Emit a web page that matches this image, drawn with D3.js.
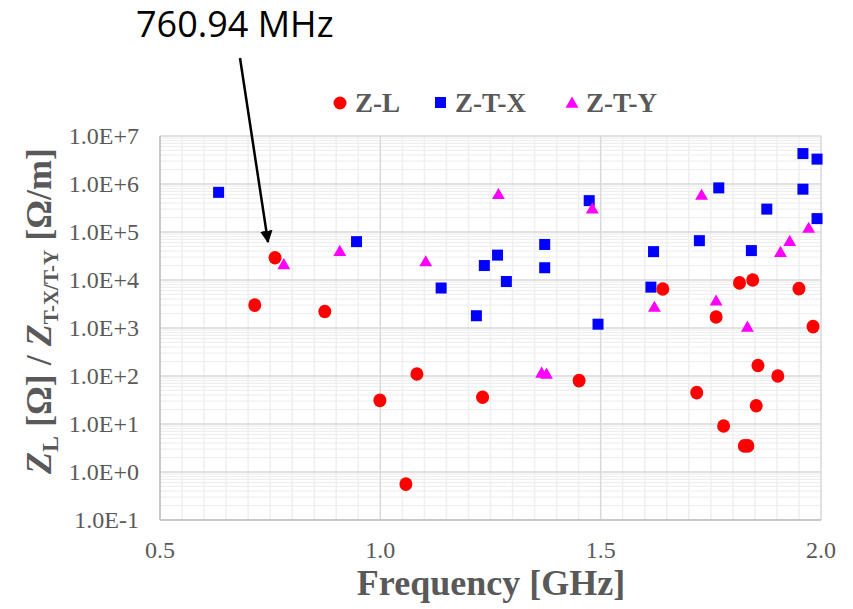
<!DOCTYPE html>
<html>
<head>
<meta charset="utf-8">
<script src="https://cdn.jsdelivr.net/npm/d3@7"></script>
<style>
  body { margin: 0; background: #fff; }
</style>
</head>
<body>
<div id="chart"></div>
<script>
// frequency [GHz] / impedance values
const zlFreq = [0.715, 0.761, 0.874, 0.999, 1.058, 1.083, 1.232, 1.451, 1.641, 1.718, 1.762,
                1.779, 1.815, 1.826, 1.834, 1.845, 1.853, 1.857, 1.902, 1.950, 1.982];
const zlVal  = [3.0e3, 2.9e4, 2.2e3, 31, 0.56, 110, 36, 80, 6.5e3, 45, 1.7e3,
                9.1, 8.7e3, 3.5, 3.5, 1.0e4, 24, 165, 100, 6.6e3, 1.07e3];

const ztxFreq = [0.633, 0.946, 1.138, 1.218, 1.236, 1.266, 1.286, 1.373, 1.373, 1.474, 1.494,
                 1.614, 1.620, 1.724, 1.768, 1.842, 1.877, 1.959, 1.959, 1.991, 1.991];
const ztxVal  = [6.7e5, 6.3e4, 6.8e3, 1.8e3, 2.0e4, 3.3e4, 9.3e3, 5.5e4, 1.8e4, 4.5e5, 1.2e3,
                 7.1e3, 3.9e4, 6.6e4, 8.3e5, 4.1e4, 3.0e5, 4.3e6, 7.8e5, 3.3e6, 1.9e5];

const ztyFreq = [0.781, 0.908, 1.103, 1.268, 1.366, 1.377, 1.481, 1.622, 1.729, 1.762, 1.833,
                 1.908, 1.929, 1.972];
const ztyVal  = [2.0e4, 3.8e4, 2.3e4, 5.8e5, 110, 105, 2.9e5, 2.6e3, 5.6e5, 3.5e3, 1.0e3,
                 3.6e4, 6.1e4, 1.15e5];

const xTicks = [0.5, 1.0, 1.5, 2.0];
const yTicks = [1e-1, 1e0, 1e1, 1e2, 1e3, 1e4, 1e5, 1e6, 1e7];
const yTickLabels = ["1.0E-1", "1.0E+0", "1.0E+1", "1.0E+2", "1.0E+3", "1.0E+4", "1.0E+5", "1.0E+6", "1.0E+7"];

const width = 853, height = 609;
const plot = { left: 160, right: 821, top: 136, bottom: 520 };
const grey = "#595959";
const serif = "'Liberation Serif', 'Times New Roman', serif";

const svg = d3.select("#chart").append("svg")
  .attr("width", width)
  .attr("height", height)
  .style("font-family", serif);

const x = d3.scaleLinear().domain([0.5, 2.0]).range([plot.left, plot.right]);
const y = d3.scaleLog().domain([1e-1, 1e7]).range([plot.bottom, plot.top]);

// minor grid
const grid = svg.append("g");
const minorX = d3.range(0.55, 2.0, 0.05).filter(v => Math.abs(v * 2 - Math.round(v * 2)) > 1e-6);
grid.selectAll("line.mx").data(minorX).join("line")
  .attr("x1", d => x(d)).attr("x2", d => x(d))
  .attr("y1", plot.top).attr("y2", plot.bottom)
  .attr("stroke", "#efefef").attr("stroke-width", 1.5);

const minorY = [];
for (let e = -1; e < 7; e++) for (let m = 2; m <= 9; m++) minorY.push(m * Math.pow(10, e));
grid.selectAll("line.my").data(minorY).join("line")
  .attr("x1", plot.left).attr("x2", plot.right)
  .attr("y1", d => y(d)).attr("y2", d => y(d))
  .attr("stroke", "#efefef").attr("stroke-width", 1.2);

// major grid
grid.selectAll("line.Mx").data(xTicks).join("line")
  .attr("x1", d => x(d)).attr("x2", d => x(d))
  .attr("y1", plot.top).attr("y2", plot.bottom)
  .attr("stroke", "#d9d9d9").attr("stroke-width", 1.5);
grid.selectAll("line.My").data(yTicks).join("line")
  .attr("x1", plot.left).attr("x2", plot.right)
  .attr("y1", d => y(d)).attr("y2", d => y(d))
  .attr("stroke", "#d9d9d9").attr("stroke-width", 1.5);

// axis lines
svg.append("line").attr("x1", plot.left).attr("x2", plot.left)
  .attr("y1", plot.top).attr("y2", plot.bottom).attr("stroke", "#bfbfbf").attr("stroke-width", 1.5);
svg.append("line").attr("x1", plot.left).attr("x2", plot.right)
  .attr("y1", plot.bottom).attr("y2", plot.bottom).attr("stroke", "#bfbfbf").attr("stroke-width", 1.5);

// tick labels
svg.selectAll("text.xt").data(xTicks).join("text")
  .attr("x", d => x(d)).attr("y", 558)
  .attr("text-anchor", "middle")
  .attr("font-size", 24).attr("fill", grey)
  .text(d => d.toFixed(1));
svg.selectAll("text.yt").data(yTicks).join("text")
  .attr("x", 139).attr("y", d => y(d) + 8)
  .attr("text-anchor", "end")
  .attr("font-size", 24).attr("fill", grey)
  .text((d, i) => yTickLabels[i]);

// axis titles
svg.append("text")
  .attr("x", 491).attr("y", 595)
  .attr("text-anchor", "middle")
  .attr("font-size", 36).attr("font-weight", "bold").attr("fill", grey)
  .text("Frequency [GHz]");

const yTitle = svg.append("text")
  .attr("transform", "translate(51,311) rotate(-90)")
  .attr("text-anchor", "middle")
  .attr("font-size", 36).attr("font-weight", "bold").attr("fill", grey);
yTitle.append("tspan").attr("font-style", "italic").text("Z");
yTitle.append("tspan").attr("font-size", 24).attr("dy", 7).text("L");
yTitle.append("tspan").attr("dy", -7).text(" [Ω] / ");
yTitle.append("tspan").attr("font-style", "italic").text("Z");
yTitle.append("tspan").attr("font-size", 21).attr("dy", 7).text("T-X/T-Y");
yTitle.append("tspan").attr("dy", -7).text(" [Ω/m]");

// markers
const zl = zlFreq.map((f, i) => ({ f, v: zlVal[i] }));
const ztx = ztxFreq.map((f, i) => ({ f, v: ztxVal[i] }));
const zty = ztyFreq.map((f, i) => ({ f, v: ztyVal[i] }));

svg.append("g").selectAll("rect").data(ztx).join("rect")
  .attr("x", d => x(d.f) - 5.5).attr("y", d => y(d.v) - 5.5)
  .attr("width", 11).attr("height", 11)
  .attr("fill", "#0000ff");

const tri = d3.symbol().type(d3.symbolTriangle).size(72);
svg.append("g").selectAll("path").data(zty).join("path")
  .attr("transform", d => `translate(${x(d.f)},${y(d.v)})`)
  .attr("d", tri)
  .attr("fill", "#ff00ff");

svg.append("g").selectAll("ellipse").data(zl).join("ellipse")
  .attr("cx", d => x(d.f)).attr("cy", d => y(d.v))
  .attr("rx", 6.5).attr("ry", 6.8)
  .attr("fill", "#ff0000");

// legend
const legend = svg.append("g").attr("font-size", 27).attr("font-weight", "bold").attr("fill", grey);
legend.append("circle").attr("cx", 340).attr("cy", 103).attr("r", 6.5).attr("fill", "#ff0000");
legend.append("text").attr("x", 355).attr("y", 112).text("Z-L");
legend.append("rect").attr("x", 435).attr("y", 97).attr("width", 11).attr("height", 11).attr("fill", "#0000ff");
legend.append("text").attr("x", 455).attr("y", 112).text("Z-T-X");
legend.append("path").attr("transform", "translate(572,104)").attr("d", tri).attr("fill", "#ff00ff");
legend.append("text").attr("x", 586).attr("y", 112).text("Z-T-Y");

// annotation arrow
svg.append("defs").append("marker")
  .attr("id", "arrow").attr("viewBox", "0 0 10 10")
  .attr("refX", 9).attr("refY", 5)
  .attr("markerWidth", 5).attr("markerHeight", 5)
  .attr("orient", "auto")
  .append("path").attr("d", "M0,0 L10,5 L0,10 Z").attr("fill", "#000");
svg.append("line")
  .attr("x1", 240).attr("y1", 58).attr("x2", 268).attr("y2", 242)
  .attr("stroke", "#000").attr("stroke-width", 2.5)
  .attr("marker-end", "url(#arrow)");
svg.append("text")
  .attr("x", 136).attr("y", 37)
  .style("font-family", "'Open Sans', 'Liberation Sans', sans-serif")
  .attr("font-size", 36).attr("fill", "#000")
  .text("760.94 MHz");
</script>
</body>
</html>
